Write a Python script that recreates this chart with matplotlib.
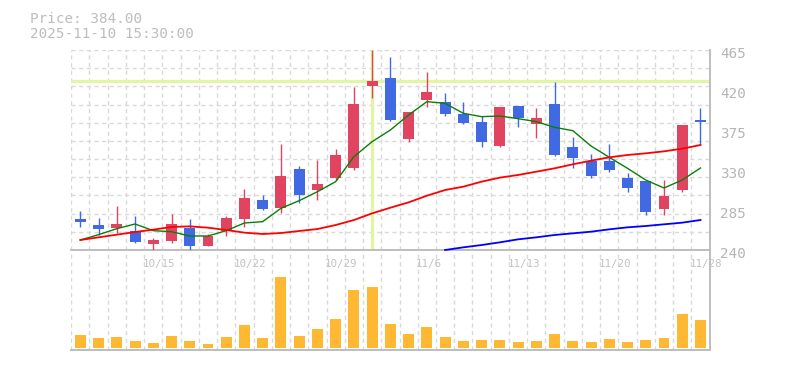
import matplotlib
matplotlib.use("Agg")
import matplotlib.pyplot as plt
import numpy as np

# daily bars 10/8 - 11/28
dates = ["10/8", "10/9", "10/10", "10/14", "10/15", "10/16", "10/17", "10/20", "10/21",
         "10/22", "10/23", "10/24", "10/27", "10/28", "10/29", "10/30", "10/31", "11/4",
         "11/5", "11/6", "11/7", "11/10", "11/11", "11/12", "11/13", "11/14", "11/17",
         "11/18", "11/19", "11/20", "11/21", "11/25", "11/26", "11/27", "11/28"]
opens = [274.9, 268.1, 265.1, 261.4, 247.1, 250.1, 264.4, 244.9, 261.75, 274.9, 296.25, 287.6,
         331.1, 307.5, 321.4, 332.6, 424.9, 433.9, 364.9, 408.75, 406.5, 393.0, 384.0, 357.0,
         402.0, 382.1, 404.25, 355.9, 340.1, 340.1, 321.0, 317.6, 286.1, 307.5, 384.0]
highs = [283.9, 276.4, 289.9, 278.25, 253.5, 280.9, 274.9, 258.0, 278.6, 309.0, 301.9, 359.25,
         334.5, 341.25, 353.6, 423.4, 465.0, 457.5, 395.25, 440.25, 416.6, 406.5, 390.75, 400.9,
         402.0, 399.75, 429.0, 367.1, 348.0, 359.25, 326.6, 317.6, 318.4, 380.6, 399.4]
lows = [266.25, 256.9, 258.75, 248.25, 240.0, 248.25, 239.25, 244.9, 256.1, 266.25, 285.0, 282.0,
        293.25, 296.25, 318.75, 330.0, 411.4, 385.5, 361.9, 401.25, 390.75, 382.1, 355.9, 355.9,
        378.4, 366.0, 345.4, 332.6, 321.0, 328.1, 305.25, 279.75, 279.75, 305.25, 358.1]
closes = [271.9, 263.6, 269.6, 249.4, 251.25, 269.25, 244.9, 255.75, 276.0, 298.5, 286.5, 323.25,
          301.9, 314.25, 346.9, 404.25, 430.1, 386.25, 395.25, 417.75, 393.0, 382.9, 361.5, 400.9,
          388.5, 388.5, 346.9, 343.9, 323.25, 330.0, 309.75, 282.75, 300.75, 380.6, 384.0]
volume = [130, 100, 110, 70, 50, 120, 70, 40, 110, 230, 100, 710, 120, 190, 290, 580, 610, 240,
          140, 210, 110, 70, 80, 80, 60, 70, 140, 70, 60, 90, 60, 80, 100, 340, 280]

ma5 = [251.25, 257.25, 264.0, 269.25, 261.75, 260.6, 255.75, 255.75, 261.75, 270.4, 271.9, 286.9,
       295.5, 305.6, 316.9, 345.0, 361.9, 375.0, 391.9, 406.9, 405.0, 393.75, 390.0, 390.75,
       387.75, 384.4, 378.0, 374.25, 357.0, 344.25, 331.9, 318.75, 309.75, 318.75, 332.25]
ma25 = [251.25, 254.25, 257.25, 260.25, 262.9, 265.9, 266.6, 265.1, 262.5, 259.5, 258.0, 259.1,
        261.4, 263.6, 268.1, 273.75, 281.25, 287.6, 293.6, 301.1, 307.5, 311.25, 316.9, 321.4,
        324.4, 328.1, 331.9, 336.4, 340.5, 344.25, 346.9, 348.75, 351.0, 354.0, 358.1]
ma75 = [240.0, 243.0, 245.6, 248.6, 252.0, 254.25, 256.9, 258.75, 260.6, 263.25, 265.5, 267.0,
        268.9, 270.75, 273.75]
ma75_start = 20

price_ticks = [240, 285, 330, 375, 420, 465]
date_ticks = ["10/15", "10/22", "10/29", "11/6", "11/13", "11/20", "11/28"]
cursor_day = "10/31"
cursor_price = 430.0
title_lines = ["Price: 384.00", "2025-11-10 15:30:00"]

UP = "#e04461"
DOWN = "#4169e1"
GRID = "#d9d9d9"
AXIS = "#bdbdbd"
MONO = "DejaVu Sans Mono"

W, H = 785, 370
fig = plt.figure(figsize=(W / 100, H / 100), dpi=100)
L, R = 71.2, 709.6
ax = fig.add_axes([L / W, 1 - 250 / H, (R - L) / W, 200 / H])
axv = fig.add_axes([L / W, 1 - 350 / H, (R - L) / W, 100 / H])

n = len(dates)
x = np.arange(n)
o = np.array(opens); c = np.array(closes)
hi = np.array(highs); lo = np.array(lows)

for a in (ax, axv):
    a.set_xlim(-0.5, n - 0.5)
    for b in np.arange(n + 1) - 0.5:
        a.axvline(b, color=GRID, lw=1.0, ls=(0, (3, 2.5)), zorder=0)
    for s in ("left", "top"):
        a.spines[s].set_visible(False)
    for s in ("right", "bottom"):
        a.spines[s].set_color(AXIS)
        a.spines[s].set_linewidth(1.4)
    a.set_xticks([]); a.set_yticks([])
    a.patch.set_alpha(0)

ax.set_ylim(240, 465)
for g in np.linspace(240, 465, 12):
    ax.axhline(g, color=GRID, lw=1.0, ls=(0, (3, 2.5)), zorder=0)

# crosshair
ci = dates.index(cursor_day)
ax.axhline(cursor_price, color="#e2f5a4", lw=2.4, zorder=1)
ax.axvline(ci, ymin=0.01, color="#e2f5a4", lw=2.4, zorder=1)

# candles
cols = np.where(c >= o, UP, DOWN)
cols[np.isclose(c, o)] = DOWN
ax.vlines(x, lo, hi, colors=cols, lw=1.0, zorder=3)
ax.bar(x, np.maximum(np.abs(c - o), 1.8), bottom=np.minimum(o, c), width=0.6,
       color=cols, zorder=4)

# moving averages
ax.plot(x, ma5, color="#087f08", lw=1.0, zorder=5)
ax.plot(x, ma25, color="#ff0000", lw=1.3, zorder=5)
ax.plot(x[ma75_start:], ma75, color="#0000ff", lw=1.3, zorder=5, clip_on=False)

for p in price_ticks:
    ax.annotate(str(p), xy=(1, p), xycoords=("axes fraction", "data"),
                xytext=(7.5, -6), textcoords="offset points", ha="left", va="baseline",
                fontsize=10.3, family=MONO, color="#b5b5b5", annotation_clip=False)

# volume
axv.set_ylim(-20, 980)
axv.bar(x, volume, width=0.6, color="#ffb833", zorder=3)
for d in date_ticks:
    i = dates.index(d)
    axv.annotate(d, xy=(i - 0.5, 1), xycoords=("data", "axes fraction"),
                 xytext=(-1.2, -11.9), textcoords="offset points", ha="left", va="baseline",
                 fontsize=7.8, family=MONO, color="#c2c2c2", annotation_clip=False)

fig.text(30 / W, 1 - 22.7 / H, title_lines[0], fontsize=10.3, family=MONO,
         color="#bdbdbd", va="baseline")
fig.text(30 / W, 1 - 37.7 / H, title_lines[1], fontsize=10.3, family=MONO,
         color="#bdbdbd", va="baseline")

fig.savefig("out.png", dpi=100)
